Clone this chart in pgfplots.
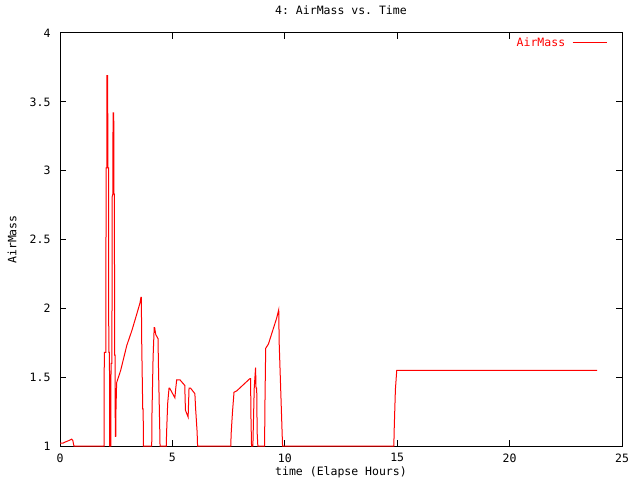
\documentclass[border=0pt]{standalone}
\usepackage{fontspec}
\setmonofont{DejaVu Sans Mono}
\usepackage{pgfplots}
\pgfplotsset{compat=1.18}
\begin{document}
\begin{tikzpicture}[font=\ttfamily\fontsize{11.5}{13}\selectfont]
\useasboundingbox (0,0) rectangle (640pt,480pt);
\begin{axis}[
  at={(60pt,34pt)}, anchor=south west,
  scale only axis, width=562pt, height=413pt,
  xmin=0, xmax=25, ymin=1, ymax=4,
  xtick={0,5,10,15,20,25}, xticklabels={0,5,10,15,20,25},
  ytick={1,1.5,2,2.5,3,3.5,4}, yticklabels={1,1.5,2,2.5,3,3.5,4},
  tick align=inside, major tick length=6pt,
  axis line style={line width=1pt},
  every tick/.style={black, line width=1pt},
  xticklabel style={yshift=-4pt},
  yticklabel style={xshift=-6pt},
  title={4: AirMass vs. Time},
  title style={at={(0.5,1)}, anchor=center, yshift=17pt},
  xlabel={time (Elapse Hours)},
  xlabel style={at={(0.5,0)}, anchor=center, yshift=-26pt},
  ylabel={AirMass},
  ylabel style={at={(0,0.5)}, anchor=center, yshift=48pt},
  legend style={draw=none, fill=none, at={(0.974,0.976)}, anchor=east, text=red, inner sep=0pt, column sep=5pt},
  legend plot pos=right,
  legend image code/.code={\draw[#1] (0pt,0pt) -- (34pt,0pt);},
]
\addplot[red, line width=1pt] coordinates {
(0,1.02) (0.12,1.02) (0.25,1.03) (0.4,1.04) (0.52,1.05) (0.57,1.04) (0.62,1.00)
(1.96,1.00) (1.97,1.68) (2.04,1.68) (2.05,3.02) (2.08,3.02) (2.09,3.69) (2.12,3.69)
(2.13,3.02) (2.16,3.02) (2.17,1.68) (2.20,1.68) (2.21,1.00)
(2.26,1.00) (2.27,1.60) (2.31,1.60) (2.32,2.81) (2.35,2.83) (2.36,3.42) (2.39,3.42)
(2.40,2.83) (2.42,2.83) (2.43,1.66) (2.45,1.66) (2.46,1.07) (2.48,1.07) (2.49,1.26)
(2.51,1.40) (2.52,1.46) (2.7,1.55) (2.97,1.73) (3.2,1.84) (3.4,1.95) (3.56,2.04)
(3.60,2.08) (3.62,2.08) (3.63,1.81) (3.68,1.27) (3.70,1.27) (3.71,1.00)
(4.08,1.00) (4.09,1.22) (4.14,1.64) (4.19,1.86) (4.21,1.86) (4.26,1.81) (4.36,1.78)
(4.38,1.58) (4.44,1.10) (4.45,1.00)
(4.73,1.00) (4.74,1.09) (4.79,1.31) (4.85,1.42) (4.88,1.42) (5.11,1.35) (5.15,1.42)
(5.19,1.48) (5.34,1.48) (5.55,1.44) (5.58,1.26) (5.70,1.21) (5.74,1.42) (5.81,1.42)
(6.00,1.38) (6.03,1.28) (6.10,1.10) (6.12,1.00)
(7.60,1.00) (7.61,1.08) (7.67,1.24) (7.74,1.39) (7.86,1.40) (8.45,1.49) (8.48,1.49)
(8.49,1.25) (8.52,1.00) (8.58,1.00) (8.60,1.14) (8.64,1.42) (8.70,1.57) (8.72,1.42)
(8.75,1.42) (8.77,1.10) (8.80,1.00)
(9.10,1.00) (9.12,1.35) (9.15,1.71) (9.27,1.74) (9.64,1.93) (9.73,1.99) (9.75,1.75)
(9.85,1.25) (9.90,1.00)
(14.85,1.00) (14.87,1.14) (14.92,1.41) (14.98,1.55) (23.89,1.55)
};
\addlegendentry{AirMass}
\end{axis}
\end{tikzpicture}
\end{document}
